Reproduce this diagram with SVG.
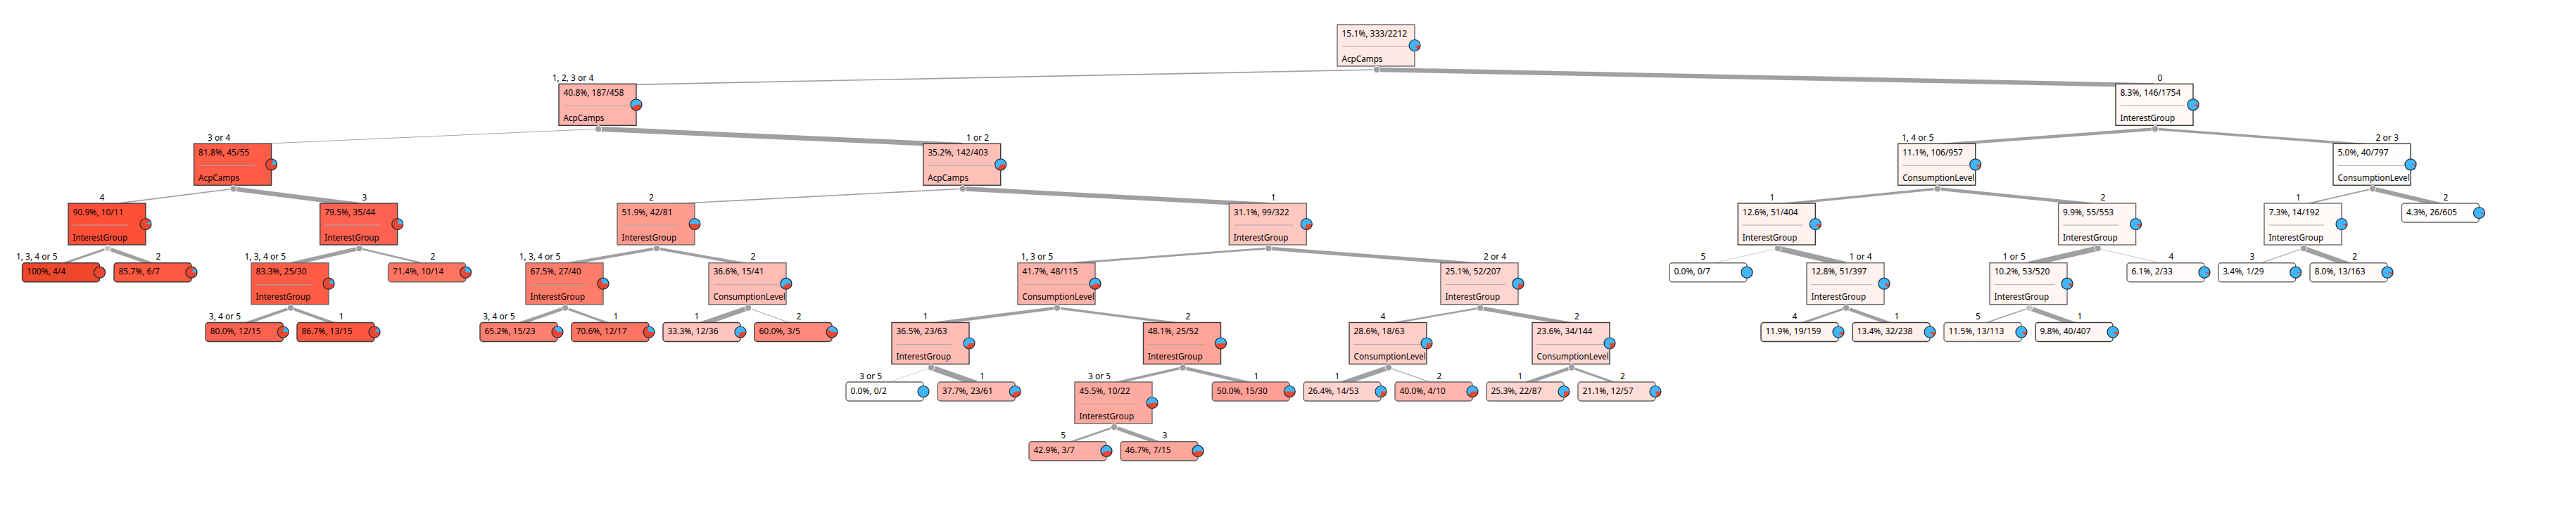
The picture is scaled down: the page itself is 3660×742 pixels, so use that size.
<svg xmlns="http://www.w3.org/2000/svg" width="3660" height="742" viewBox="0 0 3660 742">
<style>
text{font-family:"Noto Sans","Liberation Sans",sans-serif;font-size:12px;fill:#000}
.b{font-size:11.7px}
.l{text-anchor:middle}
.box{stroke:#3a3a3a;stroke-width:1.4}
.g .box{stroke:#666}
.div{stroke:#aaa;stroke-width:1}
.base{fill:#41b6fb}
.wedge{fill:none;stroke:#ea4630;stroke-width:8}
.ring{fill:none;stroke:#1c2a33;stroke-width:1.2}
.port{fill:#a0a0a4;stroke:#fff;stroke-width:1}
.port.lt{fill:#c8c8c8}
#edges line{stroke:#a09fa3;fill:none}
</style>
<defs>
<circle id="pb" class="base" r="8"/>
<circle id="pr" class="ring" r="8"/>
</defs>
<g id="edges">
<line x1="1956" y1="99" x2="849" y2="121.3" stroke-width="1.66"/>
<line x1="1956" y1="99" x2="3061" y2="121.3" stroke-width="6.34"/>
<line x1="850" y1="183.3" x2="330.6" y2="206.3" stroke-width="0.96"/>
<line x1="850" y1="183.3" x2="1366.7" y2="206.3" stroke-width="7.04"/>
<line x1="3062" y1="183.3" x2="2751.7" y2="206.3" stroke-width="4.36"/>
<line x1="3062" y1="183.3" x2="3370" y2="206.3" stroke-width="3.64"/>
<line x1="331.6" y1="268.3" x2="152" y2="291" stroke-width="1.6"/>
<line x1="331.6" y1="268.3" x2="509.7" y2="291" stroke-width="6.4"/>
<line x1="1368" y1="268.3" x2="932" y2="291" stroke-width="1.61"/>
<line x1="1368" y1="268.3" x2="1801.3" y2="291" stroke-width="6.39"/>
<line x1="2753" y1="268.3" x2="2524.3" y2="291" stroke-width="3.38"/>
<line x1="2753" y1="268.3" x2="2979.6" y2="291" stroke-width="4.62"/>
<line x1="3371" y1="268.3" x2="3272" y2="291" stroke-width="1.93"/>
<line x1="3371" y1="268.3" x2="3467.4" y2="291" stroke-width="6.07"/>
<line x1="153" y1="353" x2="86.6" y2="375.7" stroke-width="2.91"/>
<line x1="153" y1="353" x2="217" y2="375.7" stroke-width="5.09"/>
<line x1="510.7" y1="353" x2="412" y2="375.7" stroke-width="5.45"/>
<line x1="510.7" y1="353" x2="606.6" y2="375.7" stroke-width="2.55"/>
<line x1="933" y1="353" x2="802" y2="375.7" stroke-width="3.95"/>
<line x1="933" y1="353" x2="1062" y2="375.7" stroke-width="4.05"/>
<line x1="1802.3" y1="353" x2="1501" y2="375.7" stroke-width="2.86"/>
<line x1="1802.3" y1="353" x2="2102" y2="375.7" stroke-width="5.14"/>
<line x1="2526" y1="353" x2="2427" y2="375.7" stroke-width="0.5"/>
<line x1="2526" y1="353" x2="2622" y2="375.7" stroke-width="7.86"/>
<line x1="2980.5" y1="353" x2="2882" y2="375.7" stroke-width="7.52"/>
<line x1="2980.5" y1="353" x2="3077" y2="375.7" stroke-width="0.6"/>
<line x1="3273" y1="353" x2="3206.7" y2="375.7" stroke-width="1.21"/>
<line x1="3273" y1="353" x2="3337" y2="375.7" stroke-width="6.79"/>
<line x1="413" y1="437.7" x2="347.2" y2="460.5" stroke-width="4"/>
<line x1="413" y1="437.7" x2="477" y2="460.5" stroke-width="4"/>
<line x1="803" y1="437.7" x2="737" y2="460.5" stroke-width="4.6"/>
<line x1="803" y1="437.7" x2="867" y2="460.5" stroke-width="3.4"/>
<line x1="1063" y1="437.7" x2="997" y2="460.5" stroke-width="7.02"/>
<line x1="1063" y1="437.7" x2="1127" y2="460.5" stroke-width="0.98"/>
<line x1="1502" y1="437.7" x2="1322" y2="460.5" stroke-width="4.38"/>
<line x1="1502" y1="437.7" x2="1679.5" y2="460.5" stroke-width="3.62"/>
<line x1="2103" y1="437.7" x2="1972" y2="460.5" stroke-width="2.43"/>
<line x1="2103" y1="437.7" x2="2232" y2="460.5" stroke-width="5.57"/>
<line x1="2623" y1="437.7" x2="2557" y2="460.5" stroke-width="3.2"/>
<line x1="2623" y1="437.7" x2="2687" y2="460.5" stroke-width="4.8"/>
<line x1="2883" y1="437.7" x2="2817" y2="460.5" stroke-width="1.74"/>
<line x1="2883" y1="437.7" x2="2947" y2="460.5" stroke-width="6.26"/>
<line x1="1323" y1="522.5" x2="1257" y2="545" stroke-width="0.5"/>
<line x1="1323" y1="522.5" x2="1387.3" y2="545" stroke-width="7.75"/>
<line x1="1680.5" y1="522.5" x2="1582" y2="545" stroke-width="3.38"/>
<line x1="1680.5" y1="522.5" x2="1777.3" y2="545" stroke-width="4.62"/>
<line x1="1973" y1="522.5" x2="1907" y2="545" stroke-width="6.73"/>
<line x1="1973" y1="522.5" x2="2037" y2="545" stroke-width="1.27"/>
<line x1="2233" y1="522.5" x2="2167" y2="545" stroke-width="4.83"/>
<line x1="2233" y1="522.5" x2="2297" y2="545" stroke-width="3.17"/>
<line x1="1583" y1="607" x2="1517" y2="629.7" stroke-width="2.55"/>
<line x1="1583" y1="607" x2="1647" y2="629.7" stroke-width="5.45"/>
</g>

<g id="n0" class="g" transform="translate(1900,35)"><rect class="box" width="110" height="59" fill="#FFE9E5"/><text x="6.5" y="16.5">15.1%, 333/2212</text><line class="div" x1="6.5" x2="101.5" y1="31" y2="31"/><text class="b" x="6.5" y="52.5">AcpCamps</text><g transform="translate(110,29.5)"><use href="#pb"/><circle class="wedge" r="4" pathLength="100" stroke-dasharray="15.1 100"/><use href="#pr"/></g><circle class="port" cx="56" cy="64" r="4.7"/></g>

<g id="n1" transform="translate(794,119.3)"><text class="l" x="20" y="-4.3">1, 2, 3 or 4</text><rect class="box" width="110" height="59" fill="#FFB4AC"/><text x="6.5" y="16.5">40.8%, 187/458</text><line class="div" x1="6.5" x2="99" y1="31" y2="31"/><text class="b" x="6.5" y="52.5">AcpCamps</text><g transform="translate(110,29.5)"><use href="#pb"/><circle class="wedge" r="4" pathLength="100" stroke-dasharray="40.8 100"/><use href="#pr"/></g><circle class="port" cx="56" cy="64" r="4.7"/></g>

<g id="n2" transform="translate(3006,119.3)"><text class="l" x="63" y="-4.3">0</text><rect class="box" width="110" height="59" fill="#FFF8F5"/><text x="6.5" y="16.5">8.3%, 146/1754</text><line class="div" x1="6.5" x2="99" y1="31" y2="31"/><text class="b" x="6.5" y="52.5">InterestGroup</text><g transform="translate(110,29.5)"><use href="#pb"/><circle class="wedge" r="4" pathLength="100" stroke-dasharray="8.3 100"/><use href="#pr"/></g><circle class="port" cx="56" cy="64" r="4.7"/></g>

<g id="n3" transform="translate(275.6,204.3)"><text class="l" x="35.4" y="-4.3">3 or 4</text><rect class="box" width="110" height="59" fill="#FF5D47"/><text x="6.5" y="16.5">81.8%, 45/55</text><line class="div" x1="6.5" x2="85.5" y1="31" y2="31"/><text class="b" x="6.5" y="52.5">AcpCamps</text><g transform="translate(110,29.5)"><use href="#pb"/><circle class="wedge" r="4" pathLength="100" stroke-dasharray="81.8 100"/><use href="#pr"/></g><circle class="port" cx="56" cy="64" r="4.7"/></g>

<g id="n4" transform="translate(1311.7,204.3)"><text class="l" x="77.3" y="-4.3">1 or 2</text><rect class="box" width="110" height="59" fill="#FFC0B8"/><text x="6.5" y="16.5">35.2%, 142/403</text><line class="div" x1="6.5" x2="98.5" y1="31" y2="31"/><text class="b" x="6.5" y="52.5">AcpCamps</text><g transform="translate(110,29.5)"><use href="#pb"/><circle class="wedge" r="4" pathLength="100" stroke-dasharray="35.2 100"/><use href="#pr"/></g><circle class="port" cx="56" cy="64" r="4.7"/></g>

<g id="n5" transform="translate(2696.7,204.3)"><text class="l" x="28" y="-4.3">1, 4 or 5</text><rect class="box" width="110" height="59" fill="#FFF3EF"/><text x="6.5" y="16.5">11.1%, 106/957</text><line class="div" x1="6.5" x2="101.5" y1="31" y2="31"/><text class="b" x="6.5" y="52.5">ConsumptionLevel</text><g transform="translate(110,29.5)"><use href="#pb"/><circle class="wedge" r="4" pathLength="100" stroke-dasharray="11.1 100"/><use href="#pr"/></g><circle class="port" cx="56" cy="64" r="4.7"/></g>

<g id="n6" transform="translate(3315,204.3)"><text class="l" x="76.7" y="-4.3">2 or 3</text><rect class="box" width="110" height="59" fill="#FFFEFD"/><text x="6.5" y="16.5">5.0%, 40/797</text><line class="div" x1="6.5" x2="101.5" y1="31" y2="31"/><text class="b" x="6.5" y="52.5">ConsumptionLevel</text><g transform="translate(110,29.5)"><use href="#pb"/><circle class="wedge" r="4" pathLength="100" stroke-dasharray="5 100"/><use href="#pr"/></g><circle class="port" cx="56" cy="64" r="4.7"/></g>

<g id="n7" transform="translate(97,289)"><text class="l" x="48" y="-4.3">4</text><rect class="box" width="110" height="59" fill="#FF4F36"/><text x="6.5" y="16.5">90.9%, 10/11</text><line class="div" x1="6.5" x2="85.5" y1="31" y2="31"/><text class="b" x="6.5" y="52.5">InterestGroup</text><g transform="translate(110,29.5)"><use href="#pb"/><circle class="wedge" r="4" pathLength="100" stroke-dasharray="90.9 100"/><use href="#pr"/></g><circle class="port lt" cx="56" cy="64" r="4.7"/></g>

<g id="n8" transform="translate(454.7,289)"><text class="l" x="63.3" y="-4.3">3</text><rect class="box" width="110" height="59" fill="#FF6250"/><text x="6.5" y="16.5">79.5%, 35/44</text><line class="div" x1="6.5" x2="85.5" y1="31" y2="31"/><text class="b" x="6.5" y="52.5">InterestGroup</text><g transform="translate(110,29.5)"><use href="#pb"/><circle class="wedge" r="4" pathLength="100" stroke-dasharray="79.5 100"/><use href="#pr"/></g><circle class="port" cx="56" cy="64" r="4.7"/></g>

<g id="n9" class="g" transform="translate(877,289)"><text class="l" x="48.4" y="-4.3">2</text><rect class="box" width="110" height="59" fill="#FF9C8F"/><text x="6.5" y="16.5">51.9%, 42/81</text><line class="div" x1="6.5" x2="85.5" y1="31" y2="31"/><text class="b" x="6.5" y="52.5">InterestGroup</text><g transform="translate(110,29.5)"><use href="#pb"/><circle class="wedge" r="4" pathLength="100" stroke-dasharray="51.9 100"/><use href="#pr"/></g><circle class="port" cx="56" cy="64" r="4.7"/></g>

<g id="n10" class="g" transform="translate(1746.3,289)"><text class="l" x="63" y="-4.3">1</text><rect class="box" width="110" height="59" fill="#FFC7BF"/><text x="6.5" y="16.5">31.1%, 99/322</text><line class="div" x1="6.5" x2="91.5" y1="31" y2="31"/><text class="b" x="6.5" y="52.5">InterestGroup</text><g transform="translate(110,29.5)"><use href="#pb"/><circle class="wedge" r="4" pathLength="100" stroke-dasharray="31.1 100"/><use href="#pr"/></g><circle class="port" cx="56" cy="64" r="4.7"/></g>

<g id="n11" transform="translate(2469.3,289)"><text class="l" x="48.7" y="-4.3">1</text><rect class="box" width="110" height="59" fill="#FFF1EE"/><text x="6.5" y="16.5">12.6%, 51/404</text><line class="div" x1="6.5" x2="92.5" y1="31" y2="31"/><text class="b" x="6.5" y="52.5">InterestGroup</text><g transform="translate(110,29.5)"><use href="#pb"/><circle class="wedge" r="4" pathLength="100" stroke-dasharray="12.6 100"/><use href="#pr"/></g><circle class="port" cx="56.7" cy="64" r="4.7"/></g>

<g id="n12" class="g" transform="translate(2924.6,289)"><text class="l" x="63.4" y="-4.3">2</text><rect class="box" width="110" height="59" fill="#FFF7F4"/><text x="6.5" y="16.5">9.9%, 55/553</text><line class="div" x1="6.5" x2="85.5" y1="31" y2="31"/><text class="b" x="6.5" y="52.5">InterestGroup</text><g transform="translate(110,29.5)"><use href="#pb"/><circle class="wedge" r="4" pathLength="100" stroke-dasharray="9.9 100"/><use href="#pr"/></g><circle class="port" cx="56" cy="64" r="4.7"/></g>

<g id="n13" class="g" transform="translate(3217,289)"><text class="l" x="48.4" y="-4.3">1</text><rect class="box" width="110" height="59" fill="#FFFAF8"/><text x="6.5" y="16.5">7.3%, 14/192</text><line class="div" x1="6.5" x2="85" y1="31" y2="31"/><text class="b" x="6.5" y="52.5">InterestGroup</text><g transform="translate(110,29.5)"><use href="#pb"/><circle class="wedge" r="4" pathLength="100" stroke-dasharray="7.3 100"/><use href="#pr"/></g><circle class="port" cx="56" cy="64" r="4.7"/></g>

<g id="n14" class="g" transform="translate(3412.4,289)"><text class="l" x="62.6" y="-4.3">2</text><rect class="box" width="110" height="27" rx="4" fill="#FFFEFD"/><text x="6.5" y="16.5">4.3%, 26/605</text><g transform="translate(110,13.5)"><use href="#pb"/><circle class="wedge" r="4" pathLength="100" stroke-dasharray="4.3 100"/><use href="#pr"/></g></g>

<g id="n15" transform="translate(31.6,373.7)"><text class="l" x="20.6" y="-4.3">1, 3, 4 or 5</text><rect class="box" width="110" height="27" rx="4" fill="#EE472B"/><text x="6.5" y="16.5">100%, 4/4</text><g transform="translate(110,13.5)"><use href="#pb"/><circle class="wedge" r="4" pathLength="100" stroke-dasharray="100 100"/><use href="#pr"/></g></g>

<g id="n16" transform="translate(162,373.7)"><text class="l" x="63" y="-4.3">2</text><rect class="box" width="110" height="27" rx="4" fill="#FF5840"/><text x="6.5" y="16.5">85.7%, 6/7</text><g transform="translate(110,13.5)"><use href="#pb"/><circle class="wedge" r="4" pathLength="100" stroke-dasharray="85.7 100"/><use href="#pr"/></g></g>

<g id="n17" class="g" transform="translate(357,373.7)"><text class="l" x="19.8" y="-4.3">1, 3, 4 or 5</text><rect class="box" width="110" height="59" fill="#FF5C46"/><text x="6.5" y="16.5">83.3%, 25/30</text><line class="div" x1="6.5" x2="85.5" y1="31" y2="31"/><text class="b" x="6.5" y="52.5">InterestGroup</text><g transform="translate(110,29.5)"><use href="#pb"/><circle class="wedge" r="4" pathLength="100" stroke-dasharray="83.3 100"/><use href="#pr"/></g><circle class="port" cx="56" cy="64" r="4.7"/></g>

<g id="n18" class="g" transform="translate(551.6,373.7)"><text class="l" x="63.4" y="-4.3">2</text><rect class="box" width="110" height="27" rx="4" fill="#FF7361"/><text x="6.5" y="16.5">71.4%, 10/14</text><g transform="translate(110,13.5)"><use href="#pb"/><circle class="wedge" r="4" pathLength="100" stroke-dasharray="71.4 100"/><use href="#pr"/></g></g>

<g id="n19" class="g" transform="translate(747,373.7)"><text class="l" x="20" y="-4.3">1, 3, 4 or 5</text><rect class="box" width="110" height="59" fill="#FF7B6A"/><text x="6.5" y="16.5">67.5%, 27/40</text><line class="div" x1="6.5" x2="85.5" y1="31" y2="31"/><text class="b" x="6.5" y="52.5">InterestGroup</text><g transform="translate(110,29.5)"><use href="#pb"/><circle class="wedge" r="4" pathLength="100" stroke-dasharray="67.5 100"/><use href="#pr"/></g><circle class="port" cx="56" cy="64" r="4.7"/></g>

<g id="n20" class="g" transform="translate(1007,373.7)"><text class="l" x="63" y="-4.3">2</text><rect class="box" width="110" height="59" fill="#FFBDB5"/><text x="6.5" y="16.5">36.6%, 15/41</text><line class="div" x1="6.5" x2="100.5" y1="31" y2="31"/><text class="b" x="6.5" y="52.5">ConsumptionLevel</text><g transform="translate(110,29.5)"><use href="#pb"/><circle class="wedge" r="4" pathLength="100" stroke-dasharray="36.6 100"/><use href="#pr"/></g><circle class="port" cx="56" cy="64" r="4.7"/></g>

<g id="n21" class="g" transform="translate(1446,373.7)"><text class="l" x="27.5" y="-4.3">1, 3 or 5</text><rect class="box" width="110" height="59" fill="#FFB2AA"/><text x="6.5" y="16.5">41.7%, 48/115</text><line class="div" x1="6.5" x2="101.5" y1="31" y2="31"/><text class="b" x="6.5" y="52.5">ConsumptionLevel</text><g transform="translate(110,29.5)"><use href="#pb"/><circle class="wedge" r="4" pathLength="100" stroke-dasharray="41.7 100"/><use href="#pr"/></g><circle class="port" cx="56" cy="64" r="4.7"/></g>

<g id="n22" class="g" transform="translate(2047,373.7)"><text class="l" x="77" y="-4.3">2 or 4</text><rect class="box" width="110" height="59" fill="#FFD5D0"/><text x="6.5" y="16.5">25.1%, 52/207</text><line class="div" x1="6.5" x2="91.5" y1="31" y2="31"/><text class="b" x="6.5" y="52.5">InterestGroup</text><g transform="translate(110,29.5)"><use href="#pb"/><circle class="wedge" r="4" pathLength="100" stroke-dasharray="25.1 100"/><use href="#pr"/></g><circle class="port" cx="56" cy="64" r="4.7"/></g>

<g id="n23" class="g" transform="translate(2372,373.7)"><text class="l" x="48" y="-4.3">5</text><rect class="box" width="110" height="27" rx="4" fill="#FFFFFF"/><text x="6.5" y="16.5">0.0%, 0/7</text><g transform="translate(110,13.5)"><use href="#pb"/><use href="#pr"/></g></g>

<g id="n24" class="g" transform="translate(2567,373.7)"><text class="l" x="76.6" y="-4.3">1 or 4</text><rect class="box" width="110" height="59" fill="#FFF1EE"/><text x="6.5" y="16.5">12.8%, 51/397</text><line class="div" x1="6.5" x2="92.5" y1="31" y2="31"/><text class="b" x="6.5" y="52.5">InterestGroup</text><g transform="translate(110,29.5)"><use href="#pb"/><circle class="wedge" r="4" pathLength="100" stroke-dasharray="12.8 100"/><use href="#pr"/></g><circle class="port" cx="56" cy="64" r="4.7"/></g>

<g id="n25" class="g" transform="translate(2827,373.7)"><text class="l" x="34.7" y="-4.3">1 or 5</text><rect class="box" width="110" height="59" fill="#FFF6F3"/><text x="6.5" y="16.5">10.2%, 53/520</text><line class="div" x1="6.5" x2="92.5" y1="31" y2="31"/><text class="b" x="6.5" y="52.5">InterestGroup</text><g transform="translate(110,29.5)"><use href="#pb"/><circle class="wedge" r="4" pathLength="100" stroke-dasharray="10.2 100"/><use href="#pr"/></g><circle class="port lt" cx="56" cy="64" r="4.7"/></g>

<g id="n26" class="g" transform="translate(3022,373.7)"><text class="l" x="63" y="-4.3">4</text><rect class="box" width="110" height="27" rx="4" fill="#FFFBFA"/><text x="6.5" y="16.5">6.1%, 2/33</text><g transform="translate(110,13.5)"><use href="#pb"/><circle class="wedge" r="4" pathLength="100" stroke-dasharray="6.1 100"/><use href="#pr"/></g></g>

<g id="n27" class="g" transform="translate(3151.7,373.7)"><text class="l" x="48.3" y="-4.3">3</text><rect class="box" width="110" height="27" rx="4" fill="#FFFEFE"/><text x="6.5" y="16.5">3.4%, 1/29</text><g transform="translate(110,13.5)"><use href="#pb"/><circle class="wedge" r="4" pathLength="100" stroke-dasharray="3.4 100"/><use href="#pr"/></g></g>

<g id="n28" class="g" transform="translate(3282,373.7)"><text class="l" x="63.4" y="-4.3">2</text><rect class="box" width="110" height="27" rx="4" fill="#FFF9F7"/><text x="6.5" y="16.5">8.0%, 13/163</text><g transform="translate(110,13.5)"><use href="#pb"/><circle class="wedge" r="4" pathLength="100" stroke-dasharray="8 100"/><use href="#pr"/></g></g>

<g id="n29" transform="translate(292.2,458.5)"><text class="l" x="27.3" y="-4.3">3, 4 or 5</text><rect class="box" width="110" height="27" rx="4" fill="#FF6350"/><text x="6.5" y="16.5">80.0%, 12/15</text><g transform="translate(110,13.5)"><use href="#pb"/><circle class="wedge" r="4" pathLength="100" stroke-dasharray="80 100"/><use href="#pr"/></g></g>

<g id="n30" transform="translate(422,458.5)"><text class="l" x="63" y="-4.3">1</text><rect class="box" width="110" height="27" rx="4" fill="#FF5640"/><text x="6.5" y="16.5">86.7%, 13/15</text><g transform="translate(110,13.5)"><use href="#pb"/><circle class="wedge" r="4" pathLength="100" stroke-dasharray="86.7 100"/><use href="#pr"/></g></g>

<g id="n31" transform="translate(682,458.5)"><text class="l" x="27" y="-4.3">3, 4 or 5</text><rect class="box" width="110" height="27" rx="4" fill="#FF8070"/><text x="6.5" y="16.5">65.2%, 15/23</text><g transform="translate(110,13.5)"><use href="#pb"/><circle class="wedge" r="4" pathLength="100" stroke-dasharray="65.2 100"/><use href="#pr"/></g></g>

<g id="n32" transform="translate(812,458.5)"><text class="l" x="63" y="-4.3">1</text><rect class="box" width="110" height="27" rx="4" fill="#FF7563"/><text x="6.5" y="16.5">70.6%, 12/17</text><g transform="translate(110,13.5)"><use href="#pb"/><circle class="wedge" r="4" pathLength="100" stroke-dasharray="70.6 100"/><use href="#pr"/></g></g>

<g id="n33" transform="translate(942,458.5)"><text class="l" x="48" y="-4.3">1</text><rect class="box" width="110" height="27" rx="4" fill="#FFC4BD"/><text x="6.5" y="16.5">33.3%, 12/36</text><g transform="translate(110,13.5)"><use href="#pb"/><circle class="wedge" r="4" pathLength="100" stroke-dasharray="33.3 100"/><use href="#pr"/></g></g>

<g id="n34" transform="translate(1072,458.5)"><text class="l" x="63" y="-4.3">2</text><rect class="box" width="110" height="27" rx="4" fill="#FF8A7B"/><text x="6.5" y="16.5">60.0%, 3/5</text><g transform="translate(110,13.5)"><use href="#pb"/><circle class="wedge" r="4" pathLength="100" stroke-dasharray="60 100"/><use href="#pr"/></g></g>

<g id="n35" transform="translate(1267,458.5)"><text class="l" x="48" y="-4.3">1</text><rect class="box" width="110" height="59" fill="#FFBDB5"/><text x="6.5" y="16.5">36.5%, 23/63</text><line class="div" x1="6.5" x2="85.5" y1="31" y2="31"/><text class="b" x="6.5" y="52.5">InterestGroup</text><g transform="translate(110,29.5)"><use href="#pb"/><circle class="wedge" r="4" pathLength="100" stroke-dasharray="36.5 100"/><use href="#pr"/></g><circle class="port" cx="56" cy="64" r="4.7"/></g>

<g id="n36" transform="translate(1624.5,458.5)"><text class="l" x="63.5" y="-4.3">2</text><rect class="box" width="110" height="59" fill="#FFA498"/><text x="6.5" y="16.5">48.1%, 25/52</text><line class="div" x1="6.5" x2="85.5" y1="31" y2="31"/><text class="b" x="6.5" y="52.5">InterestGroup</text><g transform="translate(110,29.5)"><use href="#pb"/><circle class="wedge" r="4" pathLength="100" stroke-dasharray="48.1 100"/><use href="#pr"/></g><circle class="port" cx="56" cy="64" r="4.7"/></g>

<g id="n37" transform="translate(1917,458.5)"><text class="l" x="48" y="-4.3">4</text><rect class="box" width="110" height="59" fill="#FFCEC8"/><text x="6.5" y="16.5">28.6%, 18/63</text><line class="div" x1="6.5" x2="101.5" y1="31" y2="31"/><text class="b" x="6.5" y="52.5">ConsumptionLevel</text><g transform="translate(110,29.5)"><use href="#pb"/><circle class="wedge" r="4" pathLength="100" stroke-dasharray="28.6 100"/><use href="#pr"/></g><circle class="port" cx="56" cy="64" r="4.7"/></g>

<g id="n38" transform="translate(2177,458.5)"><text class="l" x="63.4" y="-4.3">2</text><rect class="box" width="110" height="59" fill="#FFD8D3"/><text x="6.5" y="16.5">23.6%, 34/144</text><line class="div" x1="6.5" x2="101.5" y1="31" y2="31"/><text class="b" x="6.5" y="52.5">ConsumptionLevel</text><g transform="translate(110,29.5)"><use href="#pb"/><circle class="wedge" r="4" pathLength="100" stroke-dasharray="23.6 100"/><use href="#pr"/></g><circle class="port" cx="56" cy="64" r="4.7"/></g>

<g id="n39" transform="translate(2502,458.5)"><text class="l" x="48" y="-4.3">4</text><rect class="box" width="110" height="27" rx="4" fill="#FFF3F0"/><text x="6.5" y="16.5">11.9%, 19/159</text><g transform="translate(110,13.5)"><use href="#pb"/><circle class="wedge" r="4" pathLength="100" stroke-dasharray="11.9 100"/><use href="#pr"/></g></g>

<g id="n40" transform="translate(2632,458.5)"><text class="l" x="63" y="-4.3">1</text><rect class="box" width="110" height="27" rx="4" fill="#FFEFEC"/><text x="6.5" y="16.5">13.4%, 32/238</text><g transform="translate(110,13.5)"><use href="#pb"/><circle class="wedge" r="4" pathLength="100" stroke-dasharray="13.4 100"/><use href="#pr"/></g></g>

<g id="n41" class="g" transform="translate(2762,458.5)"><text class="l" x="48.5" y="-4.3">5</text><rect class="box" width="110" height="27" rx="4" fill="#FFF3F0"/><text x="6.5" y="16.5">11.5%, 13/113</text><g transform="translate(110,13.5)"><use href="#pb"/><circle class="wedge" r="4" pathLength="100" stroke-dasharray="11.5 100"/><use href="#pr"/></g></g>

<g id="n42" transform="translate(2892,458.5)"><text class="l" x="63" y="-4.3">1</text><rect class="box" width="110" height="27" rx="4" fill="#FFF7F5"/><text x="6.5" y="16.5">9.8%, 40/407</text><g transform="translate(110,13.5)"><use href="#pb"/><circle class="wedge" r="4" pathLength="100" stroke-dasharray="9.8 100"/><use href="#pr"/></g></g>

<g id="n43" class="g" transform="translate(1202,543)"><text class="l" x="35" y="-4.3">3 or 5</text><rect class="box" width="110" height="27" rx="4" fill="#FFFFFF"/><text x="6.5" y="16.5">0.0%, 0/2</text><g transform="translate(110,13.5)"><use href="#pb"/><use href="#pr"/></g></g>

<g id="n44" class="g" transform="translate(1332.3,543)"><text class="l" x="63.2" y="-4.3">1</text><rect class="box" width="110" height="27" rx="4" fill="#FFB9B1"/><text x="6.5" y="16.5">37.7%, 23/61</text><g transform="translate(110,13.5)"><use href="#pb"/><circle class="wedge" r="4" pathLength="100" stroke-dasharray="37.7 100"/><use href="#pr"/></g></g>

<g id="n45" class="g" transform="translate(1527,543)"><text class="l" x="35" y="-4.3">3 or 5</text><rect class="box" width="110" height="59" fill="#FFAAA0"/><text x="6.5" y="16.5">45.5%, 10/22</text><line class="div" x1="6.5" x2="85.5" y1="31" y2="31"/><text class="b" x="6.5" y="52.5">InterestGroup</text><g transform="translate(110,29.5)"><use href="#pb"/><circle class="wedge" r="4" pathLength="100" stroke-dasharray="45.5 100"/><use href="#pr"/></g><circle class="port" cx="56" cy="64" r="4.7"/></g>

<g id="n46" class="g" transform="translate(1722.3,543)"><text class="l" x="62.7" y="-4.3">1</text><rect class="box" width="110" height="27" rx="4" fill="#FF9F94"/><text x="6.5" y="16.5">50.0%, 15/30</text><g transform="translate(110,13.5)"><use href="#pb"/><circle class="wedge" r="4" pathLength="100" stroke-dasharray="50 100"/><use href="#pr"/></g></g>

<g id="n47" class="g" transform="translate(1852,543)"><text class="l" x="48" y="-4.3">1</text><rect class="box" width="110" height="27" rx="4" fill="#FFD3CD"/><text x="6.5" y="16.5">26.4%, 14/53</text><g transform="translate(110,13.5)"><use href="#pb"/><circle class="wedge" r="4" pathLength="100" stroke-dasharray="26.4 100"/><use href="#pr"/></g></g>

<g id="n48" class="g" transform="translate(1982,543)"><text class="l" x="63" y="-4.3">2</text><rect class="box" width="110" height="27" rx="4" fill="#FFB6AE"/><text x="6.5" y="16.5">40.0%, 4/10</text><g transform="translate(110,13.5)"><use href="#pb"/><circle class="wedge" r="4" pathLength="100" stroke-dasharray="40 100"/><use href="#pr"/></g></g>

<g id="n49" class="g" transform="translate(2112,543)"><text class="l" x="48" y="-4.3">1</text><rect class="box" width="110" height="27" rx="4" fill="#FFD5D0"/><text x="6.5" y="16.5">25.3%, 22/87</text><g transform="translate(110,13.5)"><use href="#pb"/><circle class="wedge" r="4" pathLength="100" stroke-dasharray="25.3 100"/><use href="#pr"/></g></g>

<g id="n50" class="g" transform="translate(2242,543)"><text class="l" x="63.4" y="-4.3">2</text><rect class="box" width="110" height="27" rx="4" fill="#FFDDD8"/><text x="6.5" y="16.5">21.1%, 12/57</text><g transform="translate(110,13.5)"><use href="#pb"/><circle class="wedge" r="4" pathLength="100" stroke-dasharray="21.1 100"/><use href="#pr"/></g></g>

<g id="n51" class="g" transform="translate(1462,627.7)"><text class="l" x="48.6" y="-4.3">5</text><rect class="box" width="110" height="27" rx="4" fill="#FFAEA5"/><text x="6.5" y="16.5">42.9%, 3/7</text><g transform="translate(110,13.5)"><use href="#pb"/><circle class="wedge" r="4" pathLength="100" stroke-dasharray="42.9 100"/><use href="#pr"/></g></g>

<g id="n52" class="g" transform="translate(1592,627.7)"><text class="l" x="63" y="-4.3">3</text><rect class="box" width="110" height="27" rx="4" fill="#FFA69B"/><text x="6.5" y="16.5">46.7%, 7/15</text><g transform="translate(110,13.5)"><use href="#pb"/><circle class="wedge" r="4" pathLength="100" stroke-dasharray="46.7 100"/><use href="#pr"/></g></g>
</svg>
